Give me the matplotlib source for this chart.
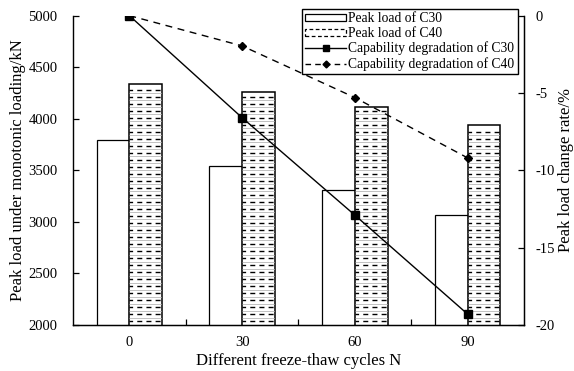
import matplotlib.pyplot as plt
from matplotlib.patches import Patch
from matplotlib.lines import Line2D
import numpy as np

plt.rcParams['font.family'] = ['Liberation Serif', 'DejaVu Serif']
plt.rcParams['axes.unicode_minus'] = False

cycles = ['0', '30', '60', '90']
peak_c30 = [3795, 3545, 3305, 3070]
peak_c40 = [4340, 4255, 4110, 3940]
rate_c30 = [0, -6.6, -12.9, -19.3]
rate_c40 = [0, -1.96, -5.3, -9.2]

fig = plt.figure(figsize=(5.74, 3.71), dpi=100)
ax = fig.add_axes([0.127, 0.124, 0.786, 0.834])
x = np.arange(len(cycles))
w = 0.29

bars30 = ax.bar(x - w/2, peak_c30, w, color='white', edgecolor='black', lw=0.9, zorder=2)
bars40 = ax.bar(x + w/2, peak_c40, w, color='white', edgecolor='black', lw=1.1, zorder=2)

# dashed "hatch" inside the C40 bars, clipped to each bar
step = 68
for b in bars40:
    x0, x1 = b.get_x(), b.get_x() + b.get_width()
    top = b.get_y() + b.get_height()
    dark = np.arange(2000 + step*0.55, top - 10, step)
    light = dark - step/2
    ax.hlines(light, x0, x1, colors='#a8a8a8', lw=0.5, zorder=2.5, clip_path=b)
    ax.hlines(dark, x0, x1, colors='black', lw=1.0, linestyles=(1, (3.6, 3.0)),
              zorder=2.5, clip_path=b)

ax.set_xlim(-0.5, 3.5)
ax.set_ylim(2000, 5000)
ax.set_yticks(np.arange(2000, 5001, 500))
ax.set_xticks(x)
ax.set_xticklabels(cycles)
ax.set_xticks(np.arange(0.5, 3, 1), minor=True)
ax.tick_params(axis='x', which='major', length=0, labelsize=10.5, pad=8)
ax.tick_params(axis='x', which='minor', direction='in', length=4, width=0.9)
ax.tick_params(axis='y', direction='in', length=4, width=0.9, labelsize=10.5, pad=11)
ax.spines['top'].set_visible(False)
for s in ['left', 'bottom', 'right']:
    ax.spines[s].set_linewidth(1.0)
ax.spines['left'].set_color('#333333')
ax.set_xlabel('Different freeze-thaw cycles N', fontsize=12, labelpad=3)
ax.set_ylabel('Peak load under monotonic loading/kN', fontsize=12, labelpad=2)

ax2 = ax.twinx()
ax2.plot(x, rate_c30, color='black', lw=1.0, marker='s', ms=6, zorder=3)
ax2.plot(x, rate_c40, color='black', lw=1.0, ls=(0, (5, 4)), marker='D', ms=4, zorder=3)
ax2.set_ylim(-20, 0)
ax2.set_yticks(np.arange(-20, 1, 5))
ax2.tick_params(axis='y', direction='in', length=4, width=0.9, labelsize=10.5, pad=8.5)
ax2.spines['top'].set_visible(False)
ax2.set_ylabel('Peak load change rate/%', fontsize=12, labelpad=2)

handles = [
    Patch(facecolor='white', edgecolor='black', lw=0.9),
    Patch(facecolor='white', edgecolor='black', lw=0.9, ls=(0, (3, 2))),
    Line2D([], [], color='black', lw=1.0, marker='s', ms=4.5),
    Line2D([], [], color='black', lw=1.0, ls=(0, (4, 3)), marker='D', ms=3.5),
]
labels = ['Peak load of C30', 'Peak load of C40',
          'Capability degradation of C30', 'Capability degradation of C40']
leg = fig.legend(handles, labels, loc='upper left', bbox_to_anchor=(302/574, 1 - 9/371),
                 fontsize=9.8, frameon=True, fancybox=False, edgecolor='black',
                 framealpha=1, borderpad=0.25, labelspacing=0.12, handlelength=3.0,
                 handleheight=0.45, handletextpad=0.15, borderaxespad=0)
leg.get_frame().set_linewidth(1.0)

fig.savefig('out.png', dpi=100)
